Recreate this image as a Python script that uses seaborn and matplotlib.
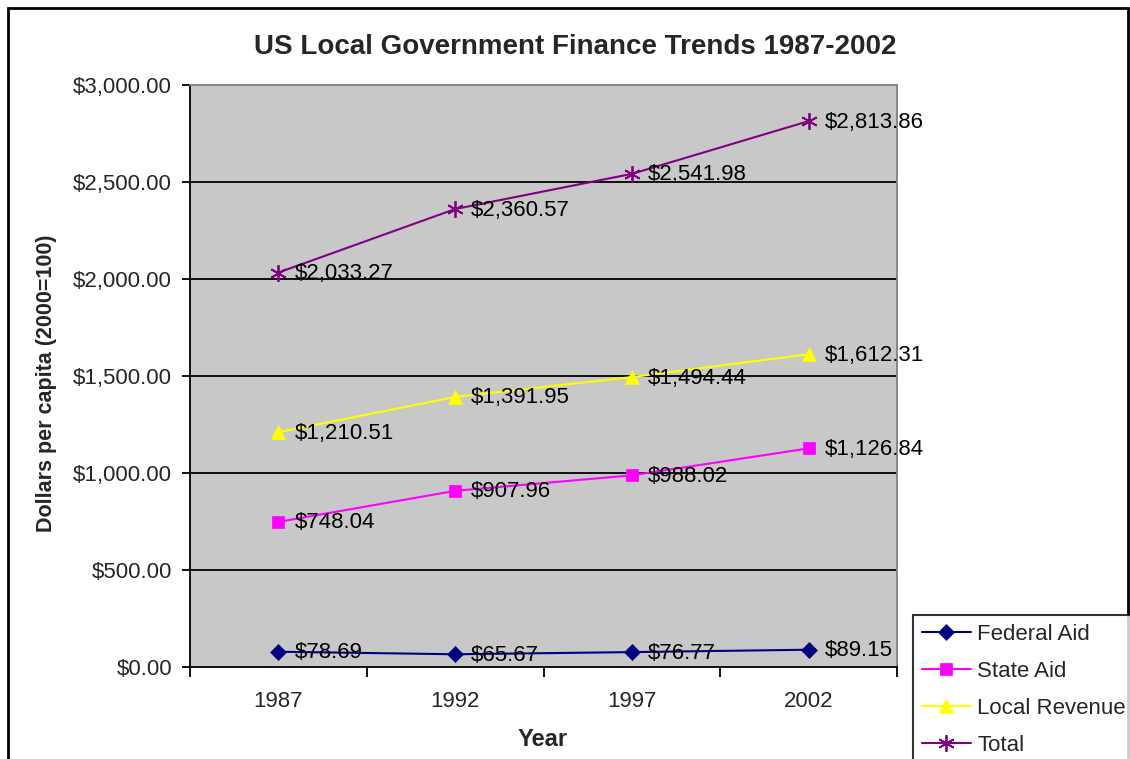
import matplotlib
matplotlib.use("Agg")
import matplotlib.pyplot as plt
import seaborn as sns
import pandas as pd
from matplotlib.patches import Rectangle

years = ["1987", "1992", "1997", "2002"]
federal_aid = [78.69, 65.67, 76.77, 89.15]
state_aid = [748.04, 907.96, 988.02, 1126.84]
local_revenue = [1210.51, 1391.95, 1494.44, 1612.31]
total = [2033.27, 2360.57, 2541.98, 2813.86]
series_names = ["Federal Aid", "State Aid", "Local Revenue", "Total"]
y_ticks = [0, 500, 1000, 1500, 2000, 2500, 3000]

sns.set_style("white")
plt.rcParams["font.family"] = ["Liberation Sans", "DejaVu Sans"]

fig = plt.figure(figsize=(11.3, 7.59), dpi=100)
ax = fig.add_axes([190/1130, (759-667)/759, 707/1130, 582/759])
ax.set_facecolor("#C8C8C8")

colors = ["#000080", "#FF00FF", "#FFFF00", "#800080"]
markers = ["D", "s", "^", (6, 2, 0)]
msizes = [8, 8, 10, 12]
values = [federal_aid, state_aid, local_revenue, total]

for ygrid in y_ticks[1:-1]:
    ax.axhline(ygrid, color="black", lw=1.3, zorder=1)

for name, vals, c, m, ms in zip(series_names, values, colors, markers, msizes):
    df = pd.DataFrame({"x": range(len(years)), "y": vals})
    sns.lineplot(data=df, x="x", y="y", ax=ax, color=c, marker=m, markersize=ms,
                 markeredgecolor=c, markeredgewidth=1.3 if m == (6, 2, 0) else 0.5,
                 lw=1.5, label=name, zorder=3, legend=False)
    for i, v in enumerate(vals):
        ax.annotate(f"${v:,.2f}", (i, v), xytext=(16, -1), textcoords="offset pixels",
                    ha="left", va="center", fontsize=16, color="black", zorder=4)

ax.set_xlim(-0.5, 3.5)
ax.set_ylim(0, 3000)
ax.set_xticks([-0.5, 0.5, 1.5, 2.5, 3.5])
ax.set_xticklabels([])
ax.set_xticks(range(len(years)), minor=True)
ax.set_xticklabels(years, minor=True, fontsize=16)
ax.tick_params(axis="x", which="major", direction="out", length=7, width=1.3, color="black", bottom=True)
ax.tick_params(axis="x", which="minor", length=0, pad=17)
ax.set_yticks(y_ticks)
ax.set_yticklabels([f"${t:,.2f}" for t in y_ticks], fontsize=16)
ax.tick_params(axis="y", direction="out", length=6, width=1.3, color="black", left=True, pad=7)
ax.set_xlabel("")
ax.set_ylabel("")

for s in ["left", "bottom"]:
    ax.spines[s].set_color("black")
    ax.spines[s].set_linewidth(1.3)
for s in ["top", "right"]:
    ax.spines[s].set_color("#808080")
    ax.spines[s].set_linewidth(1.3)

fig.text(575/1130, 1 - 47/759, "US Local Government Finance Trends 1987-2002",
         ha="center", va="center", fontsize=20, fontweight="bold")
fig.text(47/1130, 1 - 383/759, "Dollars per capita (2000=100)", rotation=90,
         ha="center", va="center", fontsize=15.5, fontweight="bold")
fig.text(543/1130, 1 - 740/759, "Year", ha="center", va="center",
         fontsize=17, fontweight="bold")

handles, labels = ax.get_legend_handles_labels()
leg = fig.legend(handles, labels, loc="upper left", bbox_to_anchor=(913/1130, 1 - 615/759),
                 frameon=True, fancybox=False, fontsize=16, handlelength=2.2,
                 labelspacing=0.72, borderpad=0.4, handletextpad=0.3, borderaxespad=0)
leg.get_frame().set_edgecolor("black")
leg.get_frame().set_linewidth(1.5)

fig.patches.append(Rectangle((8/1130, -0.1), (1128-8)/1130, 1.1 - 8/759,
                             transform=fig.transFigure, fill=False,
                             edgecolor="black", lw=2, zorder=0))

fig.savefig("out.png", dpi=100, facecolor="white")
